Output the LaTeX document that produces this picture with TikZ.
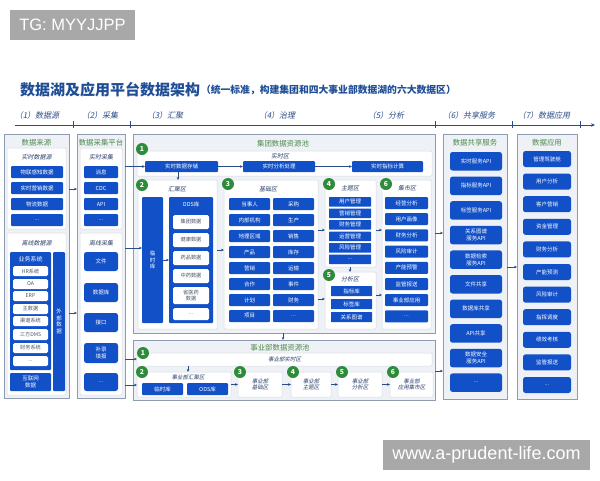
\documentclass[tikz,border=0pt]{standalone}
\usepackage{fontspec}
\setmainfont{Noto Sans CJK SC}
\newfontfamily\cjk{Noto Sans CJK SC}
\newfontfamily\cjkit[FakeSlant=0.2]{Noto Sans CJK SC}
\newfontfamily\wmfont{Liberation Sans}
\usetikzlibrary{arrows.meta}
\definecolor{myblue}{HTML}{1250C8}
\definecolor{navy}{HTML}{1F4E96}
\definecolor{stagec}{HTML}{2A4B85}
\definecolor{ttlgreen}{HTML}{4E8A4E}
\definecolor{outerdraw}{HTML}{8E9BB0}
\definecolor{outerfill}{HTML}{EEF1F5}
\definecolor{paneldraw}{HTML}{D5DBE5}
\definecolor{numgreen}{HTML}{2E8B3A}
\definecolor{arrc}{HTML}{2B4C86}
\definecolor{wtext}{HTML}{4A5568}
\definecolor{subc}{HTML}{2A3F6A}
\definecolor{wmgray}{HTML}{A8A8A8}
\newcommand\dd{...}
\newcommand\bx[7][]{\node[#1,minimum width={(#5)-(#3)},minimum height={(#6)-(#4)}] (#2) at ({((#3)+(#5))/2},{((#4)+(#6))/2}) {#7};}
\tikzset{
  base/.style={inner sep=0pt,outer sep=0pt,align=center},
  bb/.style={base,fill=myblue,text=white,rounded corners=1pt,font=\cjk\fontsize{5.5}{6.5}\selectfont},
  wb/.style={base,fill=white,text=wtext,rounded corners=1.5pt,font=\cjk\fontsize{5.2}{6.2}\selectfont},
  outerbox/.style={base,draw=outerdraw,fill=outerfill,line width=0.7pt},
  panel/.style={base,draw=paneldraw,fill=white,line width=0.5pt,rounded corners=1pt,text=subc,font=\cjkit\fontsize{5.5}{6.5}\selectfont},
  ttl/.style={base,text=ttlgreen,font=\cjk\fontsize{7.4}{8}\selectfont},
  sub/.style={base,text=subc,font=\cjkit\fontsize{6}{7}\selectfont},
  num/.style={circle,fill=numgreen,text=white,inner sep=0pt,outer sep=0pt,minimum size=12pt,font=\cjk\bfseries\fontsize{6.8}{7}\selectfont},
  arr/.style={-{Stealth[length=3pt,width=2.6pt]},draw=arrc,line width=0.5pt},
  stage/.style={base,text=stagec,font=\cjkit\fontsize{8}{9}\selectfont},
  wm/.style={base,fill=wmgray,text=white,font=\wmfont\fontsize{16.5}{18}\selectfont}
}
\begin{document}
\begin{tikzpicture}[x=1pt,y=-1pt]
\useasboundingbox (0,0) rectangle (600,480);
\fill[white] (0,0) rectangle (600,480);
% watermarks
\bx[wm]{wma}{10}{10}{135}{40}{TG: MYYJJPP}
\bx[wm]{wmb}{383}{440}{590}{470}{\fontsize{18}{19}\selectfont www.a-prudent-life.com}
% title
\node[base,anchor=west,text=navy,font=\cjk\bfseries\fontsize{15}{16}\selectfont] (title) at (20,90) {数据湖及应用平台数据架构};
\node[base,anchor=west,text=navy,font=\cjk\bfseries\fontsize{9.8}{11}\selectfont] (subtitle) at ([xshift=1pt,yshift=-0.5pt]title.east) {（统一标准，构建集团和四大事业部数据湖的六大数据区）};
% stage header
\node[stage] (st1) at (37,115) {（1）数据源};
\node[stage] (st2) at (100,115) {（2）采集};
\node[stage] (st3) at (165,115) {（3）汇聚};
\node[stage] (st4) at (277,115) {（4）治理};
\node[stage] (st5) at (386,115) {（5）分析};
\node[stage] (st6) at (469,115) {（6）共享服务};
\node[stage] (st7) at (544,115) {（7）数据应用};
\coordinate (hl) at (15,125);
\coordinate (hr) at (595,125);
\draw[-{Stealth[length=4pt,width=3.5pt]},draw=stagec,line width=0.8pt] (hl) -- (hr);
\foreach \tx in {73,130,435,512,580}{\draw[stagec,line width=0.8pt] (\tx,121) -- (\tx,128);}
% ---------- column 1
\bx[outerbox]{c1}{4}{134}{69}{398}{}
\node[ttl] (c1t) at (36.5,143) {数据来源};
\bx[panel]{p1a}{7}{148}{66}{229}{}
\node[sub] (p1at) at (36.5,157) {实时数据源};
\bx[bb]{s1}{11}{166}{63}{178}{物联感知数据}
\bx[bb]{s2}{11}{182}{63}{194}{实时营销数据}
\bx[bb]{s3}{11}{198}{63}{210}{物流数据}
\bx[bb]{s4}{11}{214}{63}{226}{\dd}
\bx[panel]{p1b}{7}{233}{66}{395}{}
\node[sub] (p1bt) at (36.5,243) {离线数据源};
\bx[bb]{biz}{10}{252}{51}{370}{}
\node[base,text=white,font=\cjk\fontsize{6}{7}\selectfont] (bizt) at (30.5,259) {业务系统};
\bx[wb]{w1}{13}{266}{48}{276}{HR系统}
\bx[wb]{w2}{13}{279}{48}{289}{OA}
\bx[wb]{w3}{13}{291}{48}{301}{ERP}
\bx[wb]{w4}{13}{304}{48}{314}{主数据}
\bx[wb]{w5}{13}{316}{48}{326}{渠道系统}
\bx[wb]{w6}{13}{329}{48}{340}{三方DMS}
\bx[wb]{w7}{13}{343}{48}{353}{财务系统}
\bx[wb]{w8}{13}{356}{48}{366}{\dd}
\bx[bb]{inet}{10}{373}{51}{391}{互联网\\数据}
\bx[bb]{ext}{53}{252}{65}{391}{外\\部\\数\\据}
% ---------- column 2
\bx[outerbox]{c2}{77}{134}{125}{398}{}
\node[ttl] (c2t) at (101,143) {数据采集平台};
\bx[panel]{p2a}{80}{148}{122}{229}{}
\node[sub] (p2at) at (101,157) {实时采集};
\bx[bb]{m1}{84}{166}{118}{178}{消息}
\bx[bb]{m2}{84}{182}{118}{194}{CDC}
\bx[bb]{m3}{84}{198}{118}{210}{API}
\bx[bb]{m4}{84}{214}{118}{226}{\dd}
\bx[panel]{p2b}{80}{233}{122}{395}{}
\node[sub] (p2bt) at (101,243) {离线采集};
\bx[bb,rounded corners=2.5pt]{f1}{84}{252}{118}{271}{文件}
\bx[bb,rounded corners=2.5pt]{f2}{84}{283}{118}{302}{数据库}
\bx[bb,rounded corners=2.5pt]{f3}{84}{313}{118}{332}{接口}
\bx[bb,rounded corners=2.5pt]{f4}{84}{343}{118}{363}{补录\\填报}
\bx[bb,rounded corners=2.5pt]{f5}{84}{373}{118}{391}{\dd}
% ---------- group pool
\bx[outerbox]{gp}{133}{134}{435}{333}{}
\node[ttl] (gpt) at (283,144) {集团数据资源池};
\bx[panel]{rt}{137}{151}{432}{176}{}
\node[sub] (rtt) at (280,156) {实时区};
\bx[bb]{rs}{145}{161}{218}{172}{实时数据存储}
\bx[bb]{ra}{243}{161}{315}{172}{实时分析处理}
\bx[bb]{ri}{352}{161}{423}{172}{实时指标计算}
% 汇聚区
\bx[panel]{hj}{138}{180}{217}{329}{}
\node[sub] (hjt) at (177,189) {汇聚区};
\bx[bb]{tmp}{142}{197}{163}{323}{临\\时\\库}
\bx[bb]{ods}{169}{197}{213}{323}{}
\node[base,text=white,font=\cjk\fontsize{5.5}{6.5}\selectfont] (odst) at (191,204) {ODS库};
\bx[wb]{o1}{173}{215}{209}{229}{集团数据}
\bx[wb]{o2}{173}{233}{209}{247}{健康数据}
\bx[wb]{o3}{173}{251}{209}{265}{药品数据}
\bx[wb]{o4}{173}{269}{209}{283}{中药数据}
\bx[wb]{o5}{173}{287}{209}{304}{省医药\\数据}
\bx[wb]{o6}{173}{308}{209}{320}{\dd}
% 基础区
\bx[panel]{jc}{224}{180}{318}{329}{}
\node[sub] (jct) at (268,189) {基础区};
\foreach \la/\lb [count=\i from 0] in {当事人/采购,内部机构/生产,地理区域/销售,产品/库存,营销/运输,合作/事件,计划/财务,项目/\dd}{
  \pgfmathsetmacro\ya{198+16*\i}\pgfmathsetmacro\yb{\ya+12}
  \bx[bb]{ja\i}{229}{\ya}{270}{\yb}{\la}
  \bx[bb]{jb\i}{273}{\ya}{314}{\yb}{\lb}
}
% 主题区
\bx[panel]{zt}{325}{180}{376}{267}{}
\node[sub] (ztt) at (350,188) {主题区};
\foreach \t [count=\i from 0] in {用户管理,营销管理,财务管理,运营管理,风险管理,\dd}{
  \pgfmathsetmacro\ya{197+11.5*\i}\pgfmathsetmacro\yb{\ya+9.5}
  \bx[bb,rounded corners=0.5pt]{z\i}{329}{\ya}{371}{\yb}{\t}
}
% 分析区
\bx[panel]{fx}{325}{272}{376}{329}{}
\node[sub] (fxt) at (350,279) {分析区};
\bx[bb,rounded corners=0.5pt]{x1}{331}{286}{372}{296}{指标库}
\bx[bb,rounded corners=0.5pt]{x2}{331}{299}{372}{309}{标签库}
\bx[bb,rounded corners=0.5pt]{x3}{331}{312}{372}{322}{关系图谱}
% 集市区
\bx[panel]{js}{382}{180}{431}{329}{}
\node[sub] (jst) at (407,188) {集市区};
\foreach \t [count=\i from 0] in {经营分析,用户画像,财务分析,风险审计,产能预警,监管报送,事业部应用,\dd}{
  \pgfmathsetmacro\ya{197+16.2*\i}\pgfmathsetmacro\yb{\ya+12}
  \bx[bb]{mk\i}{385}{\ya}{428}{\yb}{\t}
}
\node[num] (g1) at (142,149) {1};
\node[num] (g2) at (142,185) {2};
\node[num] (g3) at (228,184) {3};
\node[num] (g4) at (329,184) {4};
\node[num] (g5) at (329,275) {5};
\node[num] (g6) at (386,184) {6};
% ---------- business-unit pool
\bx[outerbox]{bp}{133}{340}{435}{400}{}
\node[ttl] (bpt) at (280,348) {事业部数据资源池};
\bx[panel]{brt}{137}{353}{432}{366}{事业部实时区}
\bx[panel]{bhj}{137}{372}{231}{397}{}
\node[sub,font=\cjkit\fontsize{5.5}{6.5}\selectfont] (bhjt) at (188,377.5) {事业部汇聚区};
\bx[bb]{btmp}{142}{383}{183}{395}{临时库}
\bx[bb]{bods}{187}{383}{228}{395}{ODS库}
\bx[panel]{bjc}{238}{372}{282}{397}{事业部\\基础区}
\bx[panel]{bzt}{291}{372}{331}{397}{事业部\\主题区}
\bx[panel]{bfx}{338}{372}{382}{397}{事业部\\分析区}
\bx[panel]{bjs}{390}{372}{433}{397}{事业部\\应用集市区}
\node[num] (b1) at (143,353) {1};
\node[num] (b2) at (142,372) {2};
\node[num] (b3) at (240,372) {3};
\node[num] (b4) at (293,372) {4};
\node[num] (b5) at (342,372) {5};
\node[num] (b6) at (393,372) {6};
% ---------- column 6
\bx[outerbox]{c6}{443}{134}{507}{399}{}
\node[ttl] (c6t) at (475,143) {数据共享服务};
\foreach \t [count=\i from 0] in {实时服务API,指标服务API,标签服务API,{关系图谱\\服务API},{数据检索\\服务API},文件共享,数据库共享,API共享,{数据安全\\服务API},\dd}{
  \pgfmathsetmacro\ya{152+24.6*\i}\pgfmathsetmacro\yb{\ya+18.5}
  \bx[bb,rounded corners=2.5pt]{sh\i}{450}{\ya}{502}{\yb}{\t}
}
% ---------- column 7
\bx[outerbox]{c7}{517}{134}{577}{399}{}
\node[ttl] (c7t) at (547,143) {数据应用};
\foreach \t [count=\i from 0] in {管理驾驶舱,用户分析,客户营销,资金管理,财务分析,产能预测,风险审计,指挥调度,绩效考核,监管报送,\dd}{
  \pgfmathsetmacro\ya{151+22.6*\i}\pgfmathsetmacro\yb{\ya+16}
  \bx[bb,rounded corners=2.5pt]{ap\i}{523}{\ya}{571}{\yb}{\t}
}
% ---------- connectors
\draw[arr] (c1.east |- 0,189) -- (c2.west |- 0,189);
\draw[arr] (c1.east |- 0,313) -- (c2.west |- 0,313);
\draw[arr] (c2.east |- rs.west) -- (rs.west);
\draw[arr] (c2.east |- 0,248) -- (tmp.west |- 0,248);
\draw[arr] (c2.east |- 0,359) -- (brt.west |- 0,359);
\draw[arr] (c2.east |- 0,385) -- (bhj.west |- 0,385);
\draw[arr] (rs) -- (ra);
\draw[arr] (ra) -- (ri);
\draw[arr] (rs.south -| 178,0) -- (hj.north -| 178,0);
\draw[arr] (tmp.east |- 0,260) -- (ods.west |- 0,260);
\draw[arr] (hj.east |- 0,250) -- (jc.west |- 0,250);
\draw[arr] (jc.east |- 0,230) -- (zt.west |- 0,230);
\draw[arr] (jc.east |- 0,299) -- (fx.west |- 0,299);
\draw[arr] (zt.south -| 350,0) -- (fx.north -| 350,0);
\draw[arr] (zt.east |- 0,230) -- (js.west |- 0,230);
\draw[arr] (fx.east |- 0,295) -- (js.west |- 0,295);
\draw[arr] (gp.east |- 0,233) -- (c6.west |- 0,233);
\draw[arr] (gp.south -| 283,0) -- (bp.north -| 283,0);
\draw[arr] (brt.south -| 188,0) -- (bhj.north -| 188,0);
\draw[arr] (bhj) -- (bjc);
\draw[arr] (bjc) -- (bzt);
\draw[arr] (bzt) -- (bfx);
\draw[arr] (bfx) -- (bjs);
\draw[arr] (bp.east |- 0,371) -- (c6.west |- 0,371);
\draw[arr] (c6.east |- 0,267) -- (c7.west |- 0,267);
\end{tikzpicture}
\end{document}
